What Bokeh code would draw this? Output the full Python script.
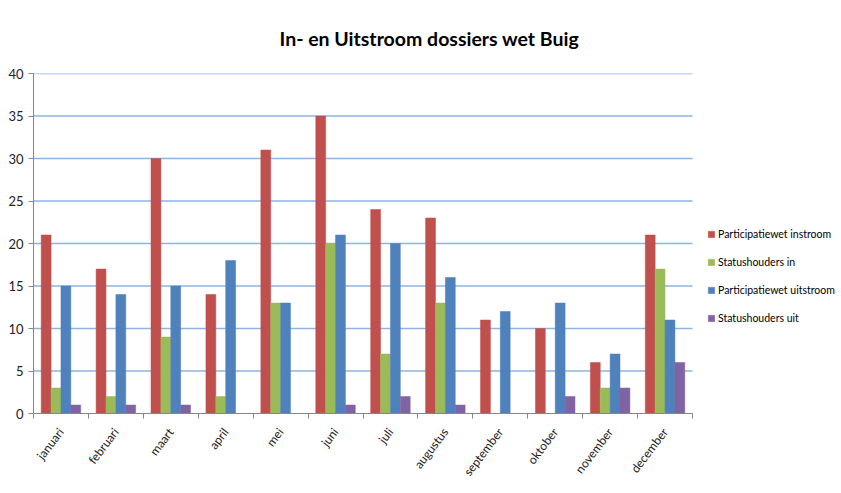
from bokeh.plotting import figure
from bokeh.models import ColumnDataSource, Legend, LegendItem, FixedTicker
from bokeh.embed import file_html
from bokeh.resources import INLINE

months = ["januari", "februari", "maart", "april", "mei", "juni", "juli",
          "augustus", "september", "oktober", "november", "december"]
part_in = [21, 17, 30, 14, 31, 35, 24, 23, 11, 10, 6, 21]
stat_in = [3, 2, 9, 2, 13, 20, 7, 13, 0, 0, 3, 17]
part_uit = [15, 14, 15, 18, 13, 21, 20, 16, 12, 13, 7, 11]
stat_uit = [1, 1, 1, 0, 0, 1, 2, 1, 0, 2, 3, 6]
series_names = ["Participatiewet instroom", "Statushouders in",
                "Participatiewet uitstroom", "Statushouders uit"]
y_ticks = [0, 5, 10, 15, 20, 25, 30, 35, 40]

colors = ["#C0504D", "#9BBB59", "#4F81BD", "#8064A2"]
FONT = "Lato"

W, H = 841, 493
LEFT, TOP, BOTTOM = 33, 72, 80
PLOT_W = 659  # pixel width of the category area
frame_w = W - LEFT
n = len(months)
idx = list(range(n))
x_end = -0.5 + n * frame_w / PLOT_W

p = figure(x_range=(-0.5, x_end), y_range=(0, 40),
           width=W, height=H, output_backend="svg", toolbar_location=None,
           min_border_left=LEFT, min_border_right=0, min_border_bottom=BOTTOM,
           min_border_top=TOP)

p.title.text = "In- en Uitstroom dossiers wet Buig"
p.title.align = "left"
p.title.text_font = FONT
p.title.text_font_size = "19.5px"
p.title.text_font_style = "bold"
p.title.text_color = "#000000"
p.title.offset = 246
p.title.standoff = 48

# horizontal grid lines limited to the category area
gsrc = ColumnDataSource(dict(y=y_ticks[1:], x0=[-0.5] * (len(y_ticks) - 1),
                             x1=[n - 0.5] * (len(y_ticks) - 1)))
p.segment(x0="x0", x1="x1", y0="y", y1="y", source=gsrc,
          line_color="#8EB4E3", line_width=1.5)

w = 0.18
offs = [-0.27, -0.09, 0.09, 0.27]
items = []
for vals, off, c, name in zip([part_in, stat_in, part_uit, stat_uit], offs, colors, series_names):
    src = ColumnDataSource(dict(x=[i + off for i in idx], top=vals))
    r = p.vbar(x="x", top="top", width=w, source=src,
               fill_color=c, line_color=c, line_width=0.5)
    items.append(LegendItem(label=name, renderers=[r]))

legend = Legend(items=items, location=(674, 89), glyph_width=8, glyph_height=8,
                label_text_font=FONT, label_text_font_size="10.5px",
                label_text_color="#000000", label_height=12, spacing=16,
                border_line_color=None, background_fill_alpha=0, padding=0,
                margin=0, label_standoff=3)
p.add_layout(legend, "center")

p.xgrid.grid_line_color = None
p.ygrid.grid_line_color = None
p.outline_line_color = None

p.yaxis.ticker = y_ticks
p.xaxis.ticker = FixedTicker(ticks=idx, minor_ticks=[i - 0.5 for i in range(n + 1)])
p.xaxis.major_label_overrides = {i: m for i, m in zip(idx, months)}
p.xaxis.bounds = (-0.5, n - 0.5)

for ax in (p.xaxis, p.yaxis):
    ax.axis_line_color = "#868686"
    ax.major_tick_line_color = "#868686"
    ax.major_label_text_font = FONT
    ax.major_label_text_color = "#222222"
p.yaxis.minor_tick_line_color = None
p.yaxis.major_label_text_font_size = "13px"
p.xaxis.major_label_text_font_size = "12px"
p.yaxis.major_tick_out = 5
p.yaxis.major_tick_in = 0
p.xaxis.major_tick_line_color = None
p.xaxis.minor_tick_line_color = "#868686"
p.xaxis.minor_tick_out = 5
p.xaxis.minor_tick_in = 0
p.xaxis.major_label_orientation = 0.92
p.xaxis.major_label_standoff = 10

open("out.html", "w").write(file_html(p, INLINE))
